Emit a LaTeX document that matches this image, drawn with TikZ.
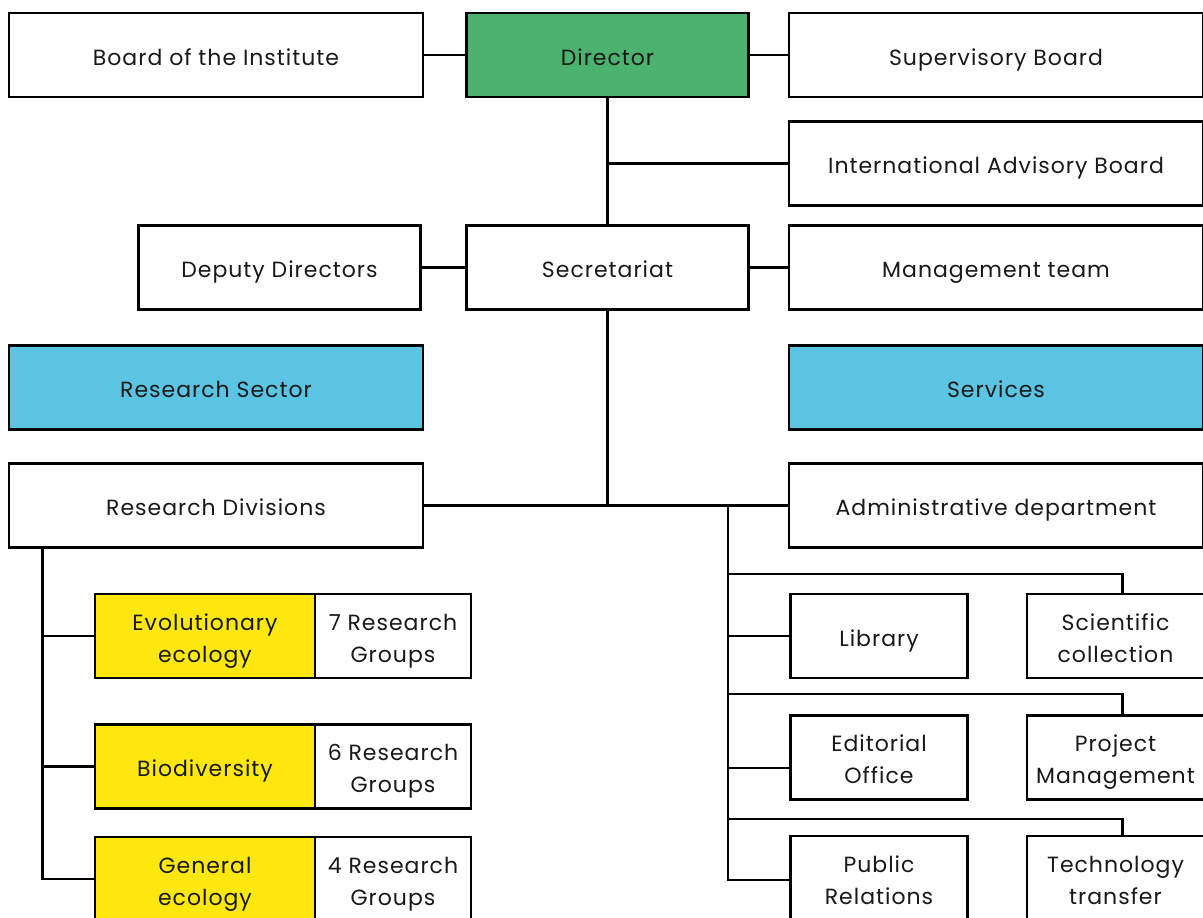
\documentclass[tikz,border=0pt]{standalone}
\usepackage{fontspec}
\setmainfont[LetterSpace=4.5]{Poppins}
\definecolor{dirgreen}{HTML}{4CB270}
\definecolor{secblue}{HTML}{5BC4E2}
\definecolor{divyellow}{HTML}{FCE80F}
\newcommand\tl[1]{\rule[-0.6pt]{0pt}{21.6pt}\smash{#1}}
\tikzset{
  box/.style={draw=black, line width=2.8pt, fill=white, inner sep=0pt, align=center,
    font=\fontsize{22}{32}\selectfont, text=black!90},
  wide/.style={box, minimum width=414pt, minimum height=84pt},
  mid/.style={box, minimum width=282pt, minimum height=84pt},
  small/.style={box, minimum width=177pt, minimum height=84pt},
  link/.style={draw=black, line width=2.8pt},
}
\begin{document}
\begin{tikzpicture}[x=1pt,y=-1pt]
\useasboundingbox (0,0) rectangle (1203,918);
% top row
\node[wide] (board) at (216,55) {\tl{Board of the Institute}};
\node[mid, fill=dirgreen] (director) at (607.5,55) {\tl{Director}};
\node[wide] (super) at (996,55) {\tl{Supervisory Board}};
\node[wide] (iab) at (996,163.5) {\tl{International Advisory Board}};
% second row
\node[mid] (deputy) at (279.5,267.5) {\tl{Deputy Directors}};
\node[mid] (secr) at (607.5,267.5) {\tl{Secretariat}};
\node[wide] (mgmt) at (996,267.5) {\tl{Management team}};
% sectors
\node[wide, fill=secblue] (rsector) at (216,387.5) {\tl{Research Sector}};
\node[wide, fill=secblue] (services) at (996,387.5) {\tl{Services}};
\node[wide] (resdiv) at (216,505.5) {\tl{Research Divisions}};
\node[wide] (admin) at (996,505.5) {\tl{Administrative department}};
% research divisions
\node[box, fill=divyellow, minimum width=220pt, minimum height=84pt] (evo) at (205,636) {\tl{Evolutionary}\\\tl{ecology}};
\node[box, minimum width=156pt, minimum height=84pt] (evog) at (393,636) {\tl{7 Research}\\\tl{Groups}};
\node[box, fill=divyellow, minimum width=220pt, minimum height=84pt] (bio) at (205,766.5) {\tl{Biodiversity}};
\node[box, minimum width=156pt, minimum height=84pt] (biog) at (393,766.5) {\tl{6 Research}\\\tl{Groups}};
\node[box, fill=divyellow, minimum width=220pt, minimum height=84pt] (gen) at (205,879) {\tl{General}\\\tl{ecology}};
\node[box, minimum width=156pt, minimum height=84pt] (geng) at (393,879) {\tl{4 Research}\\\tl{Groups}};
% services
\node[small] (lib) at (879,636) {\tl{Library}};
\node[small] (sci) at (1115.5,636) {\tl{Scientific}\\\tl{collection}};
\node[small] (edit) at (879,757.5) {\tl{Editorial}\\\tl{Office}};
\node[small] (proj) at (1115.5,757.5) {\tl{Project}\\\tl{Management}};
\node[small] (pr) at (879,878) {\tl{Public}\\\tl{Relations}};
\node[small] (tech) at (1115.5,878) {\tl{Technology}\\\tl{transfer}};
% connectors
\draw[link] (board.east) -- (director.west);
\draw[link] (director.east) -- (super.west);
\draw[link] (director.south) -- (secr.north);
\draw[link] (director.south |- iab.west) -- (iab.west);
\draw[link] (deputy.east) -- (secr.west);
\draw[link] (secr.east) -- (mgmt.west);
\draw[link] (secr.south) -- (secr.south |- resdiv.east);
\draw[link] (resdiv.east) -- (admin.west);
% left tree
\coordinate (lv) at ([xshift=35pt]resdiv.south west);
\draw[link] (lv) |- (gen.west);
\draw[link] (lv |- evo.west) -- (evo.west);
\draw[link] (lv |- bio.west) -- (bio.west);
% right tree
\coordinate (rv) at (728,505.5);
\coordinate (editin) at ([yshift=-10.5pt]edit.west);
\coordinate (prin) at ([yshift=-2pt]pr.west);
\draw[link] (rv) |- (prin);
\draw[link] (rv |- lib.west) -- (lib.west);
\draw[link] (rv |- editin) -- (editin);
\draw[link] (rv |- 0,574) -| ([xshift=7pt]sci.north);
\draw[link] (rv |- 0,694) -| ([xshift=7pt]proj.north);
\draw[link] (rv |- 0,819) -| ([xshift=7pt]tech.north);
\end{tikzpicture}
\end{document}
